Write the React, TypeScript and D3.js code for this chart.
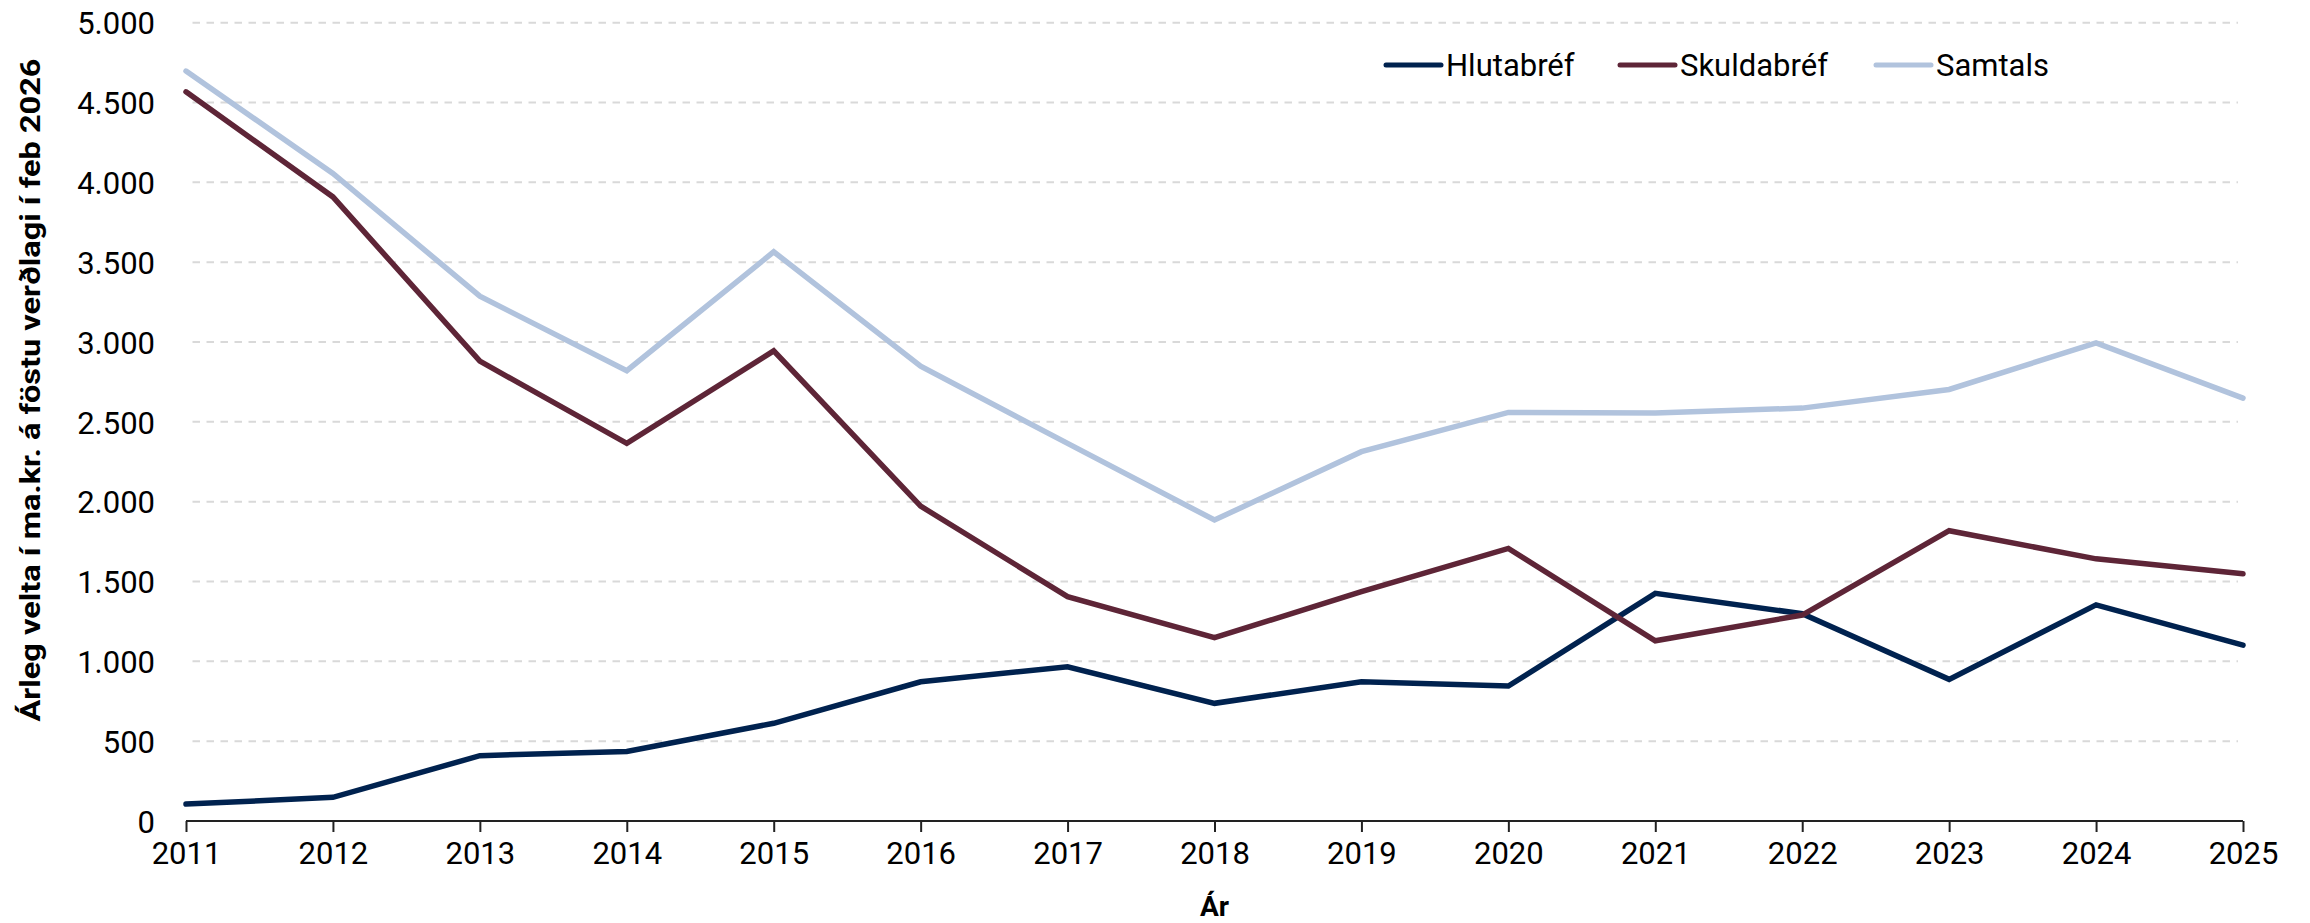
import * as React from 'react';
import * as d3 from 'd3';

const YEARS = [2011, 2012, 2013, 2014, 2015, 2016, 2017, 2018, 2019, 2020, 2021, 2022, 2023, 2024, 2025];
const HLUTABREF = [106, 148, 409, 436, 612, 872, 966, 737, 872, 845, 1426, 1298, 887, 1354, 1101];
const SKULDABREF = [4567, 3909, 2880, 2365, 2945, 1972, 1405, 1148, 1436, 1707, 1129, 1290, 1818, 1642, 1548];
const SAMTALS = [4697, 4056, 3287, 2820, 3565, 2849, 2365, 1885, 2313, 2559, 2555, 2586, 2703, 2994, 2649];
const Y_TICKS = [0, 500, 1000, 1500, 2000, 2500, 3000, 3500, 4000, 4500, 5000];

const SERIES = [
    { name: 'Hlutabréf', values: HLUTABREF, color: '#00224f' },
    { name: 'Skuldabréf', values: SKULDABREF, color: '#5e2537' },
    { name: 'Samtals', values: SAMTALS, color: '#b1c3dd' }
];

const Y_LABEL = 'Árleg velta í ma.kr. á föstu verðlagi í feb 2026';
const X_LABEL = 'Ár';

interface Pt {
    year: number;
    v: number;
}

export default function App() {
    const svgRef = React.useRef<SVGSVGElement>(null);

    React.useEffect(() => {
        const W = 2310;
        const H = 923;
        const MARGIN = { top: 22.7, right: 67, bottom: 102, left: 186 };
        const innerW = W - MARGIN.left - MARGIN.right;
        const innerH = H - MARGIN.top - MARGIN.bottom;
        const FONT = 'Roboto, sans-serif';

        const svg = d3.select(svgRef.current);
        svg.selectAll('*').remove();
        const g = svg.append('g').attr('transform', `translate(${MARGIN.left},${MARGIN.top})`);

        const x = d3.scaleLinear().domain([2011, 2025]).range([0, innerW]);
        const y = d3.scaleLinear().domain([0, 5000]).range([innerH, 0]);
        const fmt = (d: number) => d3.format(',')(d).replace(/,/g, '.');

        // grid
        g.append('g')
            .selectAll('line')
            .data(Y_TICKS.filter((t) => t > 0))
            .enter()
            .append('line')
            .attr('x1', 0)
            .attr('x2', innerW - 5)
            .attr('y1', (d) => y(d))
            .attr('y2', (d) => y(d))
            .attr('stroke', '#d9d9d9')
            .attr('stroke-width', 2)
            .attr('stroke-dasharray', '7.5,6.5')
            .attr('stroke-dashoffset', -6.5);

        // y axis (labels only)
        const yAxis = d3.axisLeft(y).tickValues(Y_TICKS).tickSize(0).tickPadding(31).tickFormat((d) => fmt(+d));
        const yDom = g.append('g').call(yAxis);
        yDom.select('.domain').remove();
        yDom.selectAll('text')
            .attr('font-family', FONT)
            .attr('font-size', 31)
            .attr('fill', '#000')
            .attr('dy', '0.36em');

        // x axis
        const xAxis = d3
            .axisBottom(x)
            .tickValues(YEARS)
            .tickSize(11)
            .tickPadding(10)
            .tickFormat((d) => String(d));
        const xDom = g.append('g').attr('transform', `translate(0,${innerH})`).call(xAxis);
        xDom.select('.domain').attr('stroke', '#222').attr('stroke-width', 2.2).attr('d', `M0,0H${innerW}`);
        xDom.selectAll('.tick line').attr('stroke', '#222').attr('stroke-width', 2);
        xDom.selectAll('text')
            .attr('font-family', FONT)
            .attr('font-size', 31)
            .attr('fill', '#000');

        // axis titles
        svg.append('text')
            .attr('x', MARGIN.left + x(2018))
            .attr('y', 916)
            .attr('text-anchor', 'middle')
            .attr('font-family', FONT)
            .attr('font-weight', 'bold')
            .attr('font-size', 28)
            .text(X_LABEL);
        svg.append('text')
            .attr('transform', 'translate(40,390) rotate(-90)')
            .attr('text-anchor', 'middle')
            .attr('font-family', FONT)
            .attr('font-weight', 'bold')
            .attr('font-size', 28)
            .attr('textLength', 663)
            .attr('lengthAdjust', 'spacingAndGlyphs')
            .text(Y_LABEL);

        // lines
        const line = d3
            .line<Pt>()
            .x((d) => x(d.year))
            .y((d) => y(d.v));
        SERIES.forEach((s) => {
            g.append('path')
                .datum(YEARS.map((yr, i) => ({ year: yr, v: s.values[i] })))
                .attr('fill', 'none')
                .attr('stroke', s.color)
                .attr('stroke-width', 5.5)
                .attr('stroke-linejoin', 'miter')
                .attr('stroke-linecap', 'round')
                .attr('d', line);
        });

        // legend
        const LEG_X = [1386, 1620, 1876];
        const leg = svg.append('g');
        SERIES.forEach((s, i) => {
            leg.append('line')
                .attr('x1', LEG_X[i])
                .attr('x2', LEG_X[i] + 55)
                .attr('y1', 65)
                .attr('y2', 65)
                .attr('stroke', s.color)
                .attr('stroke-width', 5)
                .attr('stroke-linecap', 'round');
            leg.append('text')
                .attr('x', LEG_X[i] + 60)
                .attr('y', 76)
                .attr('font-family', FONT)
                .attr('font-size', 31)
                .text(s.name);
        });
    });

    return (
        <svg
            ref={svgRef}
            width={2310}
            height={923}
            style={{ position: 'absolute', left: 0, top: 0, background: '#fff' }}
        />
    );
}
